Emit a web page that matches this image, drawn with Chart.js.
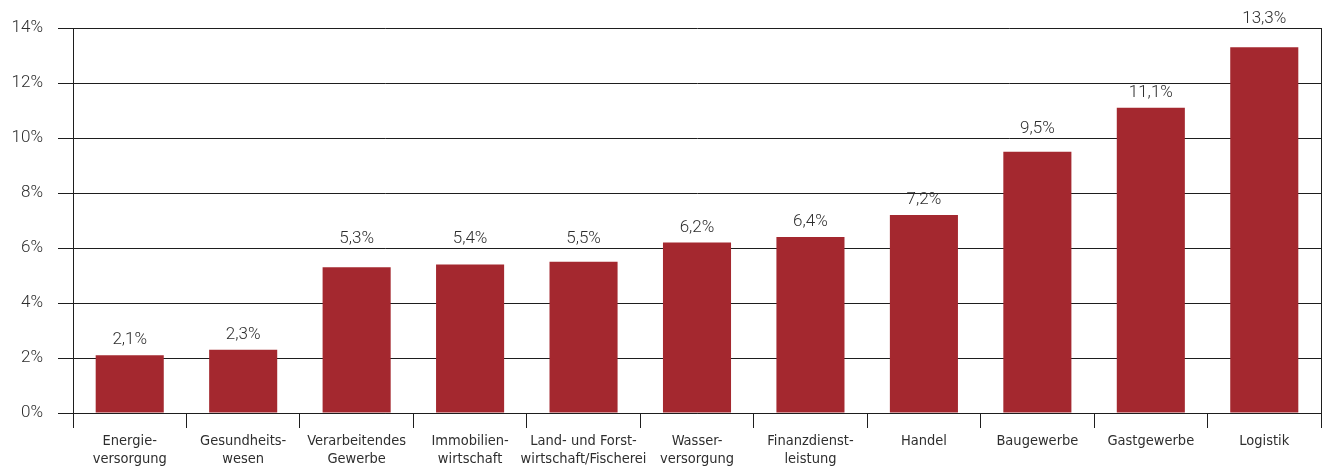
<!DOCTYPE html>
<html>
<head>
<meta charset="utf-8">
<script src="https://cdn.jsdelivr.net/npm/chart.js@4/dist/chart.umd.min.js"></script>
<style>
  html, body { margin: 0; padding: 0; background: #fff; overflow: hidden; }
  #wrap { width: 1326px; height: 476px; position: relative; }
</style>
</head>
<body>
<div id="wrap"><canvas id="chart"></canvas></div>
<script>
// ─── Data ────────────────────────────────────────────────────────────────────
const categories = [
  ['Energie-', 'versorgung'],
  ['Gesundheits-', 'wesen'],
  ['Verarbeitendes', 'Gewerbe'],
  ['Immobilien-', 'wirtschaft'],
  ['Land- und Forst-', 'wirtschaft/Fischerei'],
  ['Wasser-', 'versorgung'],
  ['Finanzdienst-', 'leistung'],
  ['Handel'],
  ['Baugewerbe'],
  ['Gastgewerbe'],
  ['Logistik'],
];
const values = [2.1, 2.3, 5.3, 5.4, 5.5, 6.2, 6.4, 7.2, 9.5, 11.1, 13.3];
const yTicks = [0, 2, 4, 6, 8, 10, 12, 14];

const BAR = '#A4282F';
const INK = '#1e1e1e';
const TXT = '#2e2e2e';
const LIGHT = '"Roboto", "Liberation Sans", Arial, sans-serif';
const NARROW = '"Liberation Sans Narrow", "DejaVu Sans Condensed", sans-serif';

const fmt = v => v.toFixed(1).replace('.', ',') + '%';

// ─── Value labels: above the bar, lifted over a gridline if they'd cross it ──
const valueLabels = {
  id: 'valueLabels',
  afterDatasetsDraw(chart) {
    const { ctx } = chart;
    const yScale = chart.scales.y;
    const gridYs = yTicks.map(v => yScale.getPixelForValue(v));
    const meta = chart.getDatasetMeta(0);
    ctx.save();
    ctx.font = '300 17px ' + LIGHT;
    ctx.fillStyle = TXT;
    ctx.textAlign = 'center';
    ctx.textBaseline = 'alphabetic';
    meta.data.forEach((bar, i) => {
      let base = bar.y - 11;
      const hit = gridYs.find(g => g > base - 10 && g < base + 3);
      if (hit !== undefined) base = hit - 5;
      ctx.fillText(fmt(values[i]), bar.x, base);
    });
    ctx.restore();
  }
};

// right border of the plot
const frame = {
  id: 'frame',
  beforeDatasetsDraw(chart) {
    const { ctx, chartArea: a } = chart;
    ctx.save();
    ctx.strokeStyle = INK;
    ctx.lineWidth = 1;
    ctx.beginPath();
    ctx.moveTo(Math.round(a.right) + 0.5, a.top);
    ctx.lineTo(Math.round(a.right) + 0.5, a.bottom);
    ctx.stroke();
    ctx.restore();
  }
};

new Chart(document.getElementById('chart'), {
  type: 'bar',
  data: {
    labels: categories,
    datasets: [{
      data: values,
      backgroundColor: BAR,
      borderWidth: 0,
      barPercentage: 0.6,
      categoryPercentage: 1.0,
    }],
  },
  options: {
    responsive: true,
    maintainAspectRatio: false,
    animation: false,
    layout: { padding: { top: 28, right: 5, left: 0, bottom: 0 } },
    plugins: {
      legend: { display: false },
      tooltip: { enabled: false },
    },
    scales: {
      x: {
        offset: true,
        grid: {
          offset: true,
          drawOnChartArea: false,
          drawTicks: true,
          tickLength: 15,
          color: INK,
        },
        border: { color: INK, width: 1 },
        ticks: {
          color: TXT,
          padding: 4,
          maxRotation: 0,
          autoSkip: false,
          font: { family: NARROW, size: 14.5, lineHeight: 1.25 },
        },
        afterFit: s => { s.height = 476 - 413; },
      },
      y: {
        min: 0,
        max: 14,
        afterBuildTicks: s => { s.ticks = yTicks.map(v => ({ value: v })); },
        grid: { color: INK, tickLength: 15, drawTicks: true },
        border: { color: INK, width: 1 },
        ticks: {
          color: TXT,
          padding: 15,
          font: { family: LIGHT, size: 17, weight: '300' },
          callback: v => v + '%',
        },
        afterFit: s => { s.width = 73; },
      },
    },
  },
  plugins: [valueLabels, frame],
});
</script>
</body>
</html>
